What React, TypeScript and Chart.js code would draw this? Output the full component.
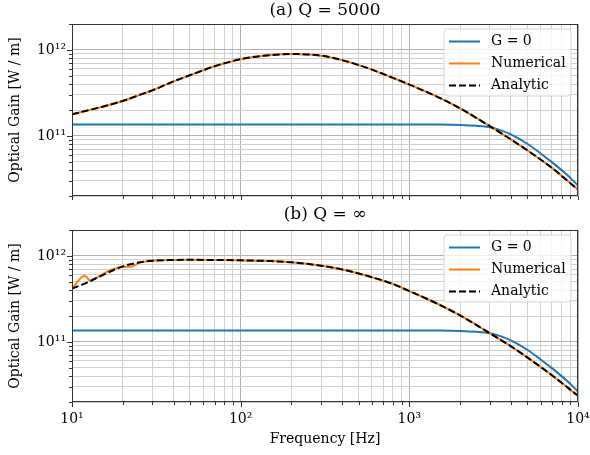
import React, { useEffect, useRef } from "react";
import { Chart, registerables } from "chart.js";

Chart.register(...registerables);

const FONT = "'DejaVu Serif', serif";

// ---- data ----
const freqG = [10, 100, 1000, 1500, 2000, 2500, 3000, 3500, 4000, 5000, 6000, 7000, 8500, 10000];
const gainG0 = [1.36e11, 1.36e11, 1.36e11, 1.355e11, 1.34e11, 1.31e11, 1.26e11, 1.16e11, 1.04e11, 8.1e10, 6.25e10, 4.95e10, 3.6e10, 2.65e10];

const freqA = [10, 12, 15, 20, 25, 30, 40, 50, 70, 100, 150, 200, 300, 400, 600, 800, 1000, 1500, 2000, 3000, 4000, 5000, 7000, 10000];
const analyticA = [1.78e11, 1.95e11, 2.17e11, 2.55e11, 2.98e11, 3.39e11, 4.3e11, 5.07e11, 6.45e11, 7.8e11, 8.7e11, 8.95e11, 8.57e11, 7.6e11, 5.9e11, 4.72e11, 3.95e11, 2.79e11, 2.09e11, 1.3e11, 9.1e10, 6.8e10, 4.25e10, 2.37e10];
const numericalA = [1.78e11, 1.95e11, 2.17e11, 2.55e11, 2.98e11, 3.39e11, 4.3e11, 5.07e11, 6.45e11, 7.8e11, 8.7e11, 8.95e11, 8.57e11, 7.6e11, 5.9e11, 4.72e11, 3.95e11, 2.79e11, 2.09e11, 1.3e11, 9.1e10, 6.8e10, 4.25e10, 2.37e10];

const freqB = [10, 12, 15, 20, 25, 30, 40, 50, 70, 100, 150, 200, 300, 400, 600, 800, 1000, 1500, 2000, 3000, 4000, 5000, 7000, 10000];
const analyticB = [4.16e11, 4.8e11, 5.9e11, 7.55e11, 8.4e11, 8.79e11, 8.95e11, 9.0e11, 8.96e11, 8.88e11, 8.7e11, 8.41e11, 7.69e11, 6.95e11, 5.65e11, 4.71e11, 3.9e11, 2.72e11, 2.03e11, 1.26e11, 8.9e10, 6.6e10, 4.1e10, 2.36e10];

const freqNumB = [10, 11.9, 12.8, 14, 16.8, 20, 22.5, 25, 30, 40, 50, 70, 100, 150, 200, 300, 400, 600, 800, 1000, 1500, 2000, 3000, 4000, 5000, 7000, 10000];
const numericalB = [4.16e11, 5.89e11, 5.15e11, 5.6e11, 6.8e11, 7.45e11, 7.5e11, 8.3e11, 8.79e11, 8.95e11, 9.0e11, 8.96e11, 8.88e11, 8.7e11, 8.41e11, 7.69e11, 6.95e11, 5.65e11, 4.71e11, 3.9e11, 2.72e11, 2.03e11, 1.26e11, 8.9e10, 6.6e10, 4.1e10, 2.36e10];

const xTickValues = [10, 20, 30, 40, 50, 60, 70, 80, 90, 100, 200, 300, 400, 500, 600, 700, 800, 900, 1000, 2000, 3000, 4000, 5000, 6000, 7000, 8000, 9000, 10000];
const yTickValues = [2e10, 3e10, 4e10, 5e10, 6e10, 7e10, 8e10, 9e10, 1e11, 2e11, 3e11, 4e11, 5e11, 6e11, 7e11, 8e11, 9e11, 1e12, 2e12];
const xTickLabels: Record<string, string> = { "10": "10¹", "100": "10²", "1000": "10³", "10000": "10⁴" };
const yTickLabels: Record<string, string> = { "100000000000": "10¹¹", "1000000000000": "10¹²" };

const seriesLabels = ["G = 0", "Numerical", "Analytic"];
const titles = ["(a) Q = 5000", "(b) Q = ∞"];
const xTitle = "Frequency [Hz]";
const yTitle = "Optical Gain [W / m]";

// ---- helpers ----
function isDecade(v: number) {
  const l = Math.log10(v);
  return Math.abs(l - Math.round(l)) < 1e-9;
}
function pts(xs: number[], ys: number[]) {
  return xs.map((x, i) => ({ x, y: ys[i] }));
}

const mplPlugin = {
  id: "mplStyle",
  afterDatasetsDraw(chart: any) {
    const { ctx, chartArea } = chart;
    const bw = 127;
    const bh = 67;
    const bx = chartArea.right - 7 - bw;
    const by = chartArea.top + 5;
    ctx.save();
    ctx.beginPath();
    const r = 3;
    ctx.moveTo(bx + r, by);
    ctx.lineTo(bx + bw - r, by);
    ctx.arcTo(bx + bw, by, bx + bw, by + r, r);
    ctx.lineTo(bx + bw, by + bh - r);
    ctx.arcTo(bx + bw, by + bh, bx + bw - r, by + bh, r);
    ctx.lineTo(bx + r, by + bh);
    ctx.arcTo(bx, by + bh, bx, by + bh - r, r);
    ctx.lineTo(bx, by + r);
    ctx.arcTo(bx, by, bx + r, by, r);
    ctx.closePath();
    ctx.fillStyle = "rgba(255,255,255,0.8)";
    ctx.fill();
    ctx.strokeStyle = "#d6d6d6";
    ctx.lineWidth = 1;
    ctx.stroke();
    chart.data.datasets.forEach((ds: any, i: number) => {
      const y = by + 12.5 + i * 22;
      ctx.beginPath();
      ctx.setLineDash(ds.borderDash || []);
      ctx.strokeStyle = ds.borderColor;
      ctx.lineWidth = ds.borderWidth;
      ctx.moveTo(bx + 5, y);
      ctx.lineTo(bx + 36, y);
      ctx.stroke();
      ctx.setLineDash([]);
      ctx.fillStyle = "#000";
      ctx.font = `14px ${FONT}`;
      ctx.textBaseline = "middle";
      ctx.textAlign = "left";
      ctx.fillText(ds.label, bx + 47, y);
    });
    ctx.restore();
  },
  afterDraw(chart: any) {
    const { ctx, chartArea, scales } = chart;
    ctx.save();
    ctx.strokeStyle = "#333";
    ctx.lineWidth = 1;
    ctx.setLineDash([]);
    ctx.beginPath();
    scales.x.ticks.forEach((t: any) => {
      const px = Math.round(scales.x.getPixelForValue(t.value)) + 0.5;
      const len = isDecade(t.value) ? 5 : 3;
      ctx.moveTo(px, chartArea.bottom);
      ctx.lineTo(px, chartArea.bottom + len);
    });
    scales.y.ticks.forEach((t: any) => {
      const py = Math.round(scales.y.getPixelForValue(t.value)) + 0.5;
      const len = isDecade(t.value) ? 5 : 3;
      ctx.moveTo(chartArea.left, py);
      ctx.lineTo(chartArea.left - len, py);
    });
    ctx.stroke();
    ctx.strokeRect(
      Math.round(chartArea.left) + 0.5,
      Math.round(chartArea.top) + 0.5,
      Math.round(chartArea.right - chartArea.left) - 1,
      Math.round(chartArea.bottom - chartArea.top) - 1
    );
    ctx.restore();
  },
};

function makeConfig(opts: {
  title: string;
  titlePad: { top: number; bottom: number };
  xHeight: number;
  showX: boolean;
  datasets: any[];
}) {
  const gridColor = (c: any) => (c.tick && isDecade(c.tick.value) ? "#b0b0b0" : "#d0d0d0");
  return {
    type: "line",
    data: { datasets: opts.datasets },
    plugins: [mplPlugin],
    options: {
      responsive: false,
      animation: false,
      events: [],
      layout: { padding: { left: 0, right: 12, top: 0, bottom: 0 } },
      elements: { point: { radius: 0 }, line: { cubicInterpolationMode: "monotone" } },
      plugins: {
        legend: { display: false },
        tooltip: { enabled: false },
        title: {
          display: true,
          text: opts.title,
          fullSize: false,
          color: "#000",
          font: { family: FONT, size: 17, weight: "normal" },
          padding: opts.titlePad,
        },
      },
      scales: {
        x: {
          type: "logarithmic",
          min: 10,
          max: 10000,
          bounds: "data",
          afterBuildTicks: (s: any) => {
            s.ticks = xTickValues.map((v) => ({ value: v, major: isDecade(v) }));
          },
          afterFit: (s: any) => {
            s.height = opts.xHeight;
            s.paddingLeft = 0;
            s.paddingRight = 0;
          },
          border: { display: false },
          grid: { color: gridColor, lineWidth: 1, drawTicks: false },
          ticks: {
            display: opts.showX,
            autoSkip: false,
            maxRotation: 0,
            padding: 9,
            color: "#000",
            font: { family: FONT, size: 14 },
            callback: (v: any) => xTickLabels[String(v)] || "",
          },
          title: {
            display: opts.showX,
            text: xTitle,
            color: "#000",
            font: { family: FONT, size: 14 },
            padding: { top: 0, bottom: 7 },
          },
        },
        y: {
          type: "logarithmic",
          min: 2e10,
          max: 2e12,
          bounds: "data",
          afterBuildTicks: (s: any) => {
            s.ticks = yTickValues.map((v) => ({ value: v, major: isDecade(v) }));
          },
          afterFit: (s: any) => {
            s.width = 72;
            s.paddingTop = 0;
            s.paddingBottom = 0;
          },
          border: { display: false },
          grid: { color: gridColor, lineWidth: 1, drawTicks: false },
          ticks: {
            autoSkip: false,
            padding: 6,
            color: "#000",
            font: { family: FONT, size: 14 },
            callback: (v: any) => yTickLabels[String(v)] || "",
          },
          title: {
            display: true,
            text: yTitle,
            color: "#000",
            font: { family: FONT, size: 14 },
            padding: { top: 7, bottom: 0 },
          },
        },
      },
    },
  } as any;
}

function lineDs(label: string, xs: number[], ys: number[], color: string, order: number, dash?: number[]) {
  return {
    label,
    data: pts(xs, ys),
    borderColor: color,
    backgroundColor: color,
    borderWidth: 2,
    borderDash: dash || [],
    pointRadius: 0,
    fill: false,
    order,
    cubicInterpolationMode: "monotone",
  };
}

export default function App() {
  const refA = useRef<HTMLCanvasElement>(null);
  const refB = useRef<HTMLCanvasElement>(null);

  useEffect(() => {
    const chartA = new Chart(
      refA.current as HTMLCanvasElement,
      makeConfig({
        title: titles[0],
        titlePad: { top: 0, bottom: 3.6 },
        xHeight: 4,
        showX: false,
        datasets: [
          lineDs(seriesLabels[0], freqG, gainG0, "#1f77b4", 3),
          lineDs(seriesLabels[1], freqA, numericalA, "#ff7f0e", 2),
          lineDs(seriesLabels[2], freqA, analyticA, "#000000", 1, [7, 3]),
        ],
      })
    );
    const chartB = new Chart(
      refB.current as HTMLCanvasElement,
      makeConfig({
        title: titles[1],
        titlePad: { top: 4.8, bottom: 4.8 },
        xHeight: 53,
        showX: true,
        datasets: [
          lineDs(seriesLabels[0], freqG, gainG0, "#1f77b4", 3),
          lineDs(seriesLabels[1], freqNumB, numericalB, "#ff7f0e", 2),
          lineDs(seriesLabels[2], freqB, analyticB, "#000000", 1, [7, 3]),
        ],
      })
    );
    return () => {
      chartA.destroy();
      chartB.destroy();
    };
  }, []);

  return (
    <div style={{ position: "fixed", left: 0, top: 0, width: 590, height: 455, background: "#fff" }}>
      <canvas ref={refA} width={590} height={200} style={{ position: "absolute", left: 0, top: 0 }} />
      <canvas ref={refB} width={590} height={255} style={{ position: "absolute", left: 0, top: 200 }} />
    </div>
  );
}
